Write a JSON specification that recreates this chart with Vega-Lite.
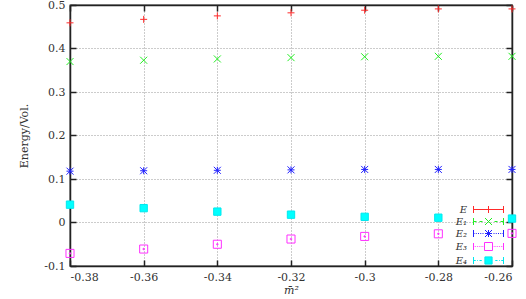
{
  "$schema": "https://vega.github.io/schema/vega-lite/v6.json",
  "autosize": {"type": "none"},
  "width": 442,
  "height": 261,
  "padding": {"left": 70, "top": 5, "right": 14, "bottom": 33},
  "config": {
    "font": "DejaVu Serif",
    "view": {"stroke": "#222", "strokeWidth": 1.3},
    "axis": {
      "labelFont": "DejaVu Serif",
      "labelFontSize": 11,
      "labelColor": "#333",
      "titleFont": "DejaVu Serif",
      "titleFontSize": 11,
      "titleColor": "#333",
      "titleFontWeight": "normal",
      "domainColor": "#222",
      "domainWidth": 1.5,
      "tickColor": "#222",
      "tickWidth": 1.5,
      "gridColor": "#999",
      "gridDash": [1, 2],
      "gridWidth": 1
    },
    "legend": {
      "labelFont": "DejaVu Serif",
      "labelFontSize": 10,
      "labelFontStyle": "italic",
      "labelColor": "#333"
    }
  },
  "datasets": {
    "pts": [
      {"m2": -0.38, "v": 0.459, "s": "E"},
      {"m2": -0.36, "v": 0.467, "s": "E"},
      {"m2": -0.34, "v": 0.475, "s": "E"},
      {"m2": -0.32, "v": 0.482, "s": "E"},
      {"m2": -0.30, "v": 0.488, "s": "E"},
      {"m2": -0.28, "v": 0.491, "s": "E"},
      {"m2": -0.26, "v": 0.491, "s": "E"},
      {"m2": -0.38, "v": 0.370, "s": "E₁"},
      {"m2": -0.36, "v": 0.373, "s": "E₁"},
      {"m2": -0.34, "v": 0.376, "s": "E₁"},
      {"m2": -0.32, "v": 0.379, "s": "E₁"},
      {"m2": -0.30, "v": 0.381, "s": "E₁"},
      {"m2": -0.28, "v": 0.382, "s": "E₁"},
      {"m2": -0.26, "v": 0.382, "s": "E₁"},
      {"m2": -0.38, "v": 0.118, "s": "E₂"},
      {"m2": -0.36, "v": 0.119, "s": "E₂"},
      {"m2": -0.34, "v": 0.120, "s": "E₂"},
      {"m2": -0.32, "v": 0.121, "s": "E₂"},
      {"m2": -0.30, "v": 0.122, "s": "E₂"},
      {"m2": -0.28, "v": 0.122, "s": "E₂"},
      {"m2": -0.26, "v": 0.122, "s": "E₂"},
      {"m2": -0.38, "v": -0.071, "s": "E₃"},
      {"m2": -0.36, "v": -0.061, "s": "E₃"},
      {"m2": -0.34, "v": -0.050, "s": "E₃"},
      {"m2": -0.32, "v": -0.038, "s": "E₃"},
      {"m2": -0.30, "v": -0.032, "s": "E₃"},
      {"m2": -0.28, "v": -0.026, "s": "E₃"},
      {"m2": -0.26, "v": -0.025, "s": "E₃"},
      {"m2": -0.38, "v": 0.041, "s": "E₄"},
      {"m2": -0.36, "v": 0.033, "s": "E₄"},
      {"m2": -0.34, "v": 0.025, "s": "E₄"},
      {"m2": -0.32, "v": 0.018, "s": "E₄"},
      {"m2": -0.30, "v": 0.013, "s": "E₄"},
      {"m2": -0.28, "v": 0.011, "s": "E₄"},
      {"m2": -0.26, "v": 0.009, "s": "E₄"}
    ]
  },
  "layer": [
    {
      "data": {"name": "pts"},
      "mark": {"type": "point", "size": 49, "strokeWidth": 1, "opacity": 1, "clip": false},
      "encoding": {
        "x": {
          "field": "m2", "type": "quantitative",
          "scale": {"domain": [-0.38, -0.26], "nice": false, "zero": false},
          "axis": {
            "values": [-0.38, -0.36, -0.34, -0.32, -0.3, -0.28, -0.26],
            "labelExpr": "replace(format(datum.value, '.2~f'), '\u2212', '-')",
            "ticks": false,
            "labelPadding": 5,
            "title": "m̄²",
            "titleFontStyle": "italic",
            "titlePadding": 2,
            "grid": true
          }
        },
        "y": {
          "field": "v", "type": "quantitative",
          "scale": {"domain": [-0.1, 0.5], "nice": false, "zero": false},
          "axis": {
            "values": [-0.1, 0, 0.1, 0.2, 0.3, 0.4, 0.5],
            "labelExpr": "replace(format(datum.value, '.1~f'), '\u2212', '-')",
            "ticks": false,
            "labelPadding": 5,
            "title": "Energy/Vol.",
            "titlePadding": 14,
            "grid": true
          }
        },
        "shape": {
          "field": "s", "type": "nominal", "legend": null,
          "scale": {
            "domain": ["E", "E₁", "E₂", "E₃", "E₄"],
            "range": [
              "M-1,0H1M0,-1V1",
              "M-1,-1L1,1M-1,1L1,-1",
              "M-1,0H1M0,-1V1M-1,-1L1,1M-1,1L1,-1",
              "M-1.15,-1.15H1.15V1.15H-1.15ZM-0.35,0H0.35M0,-0.35V0.35",
              "M-1.05,-1.05H1.05V1.05H-1.05Z"
            ]
          }
        },
        "stroke": {
          "field": "s", "type": "nominal", "legend": null,
          "scale": {"domain": ["E", "E₁", "E₂", "E₃", "E₄"], "range": ["#ff2a2a", "#22ee22", "#2020ff", "#ff30ff", "#00e8ee"]}
        },
        "fill": {
          "field": "s", "type": "nominal", "legend": null,
          "scale": {"domain": ["E", "E₁", "E₂", "E₃", "E₄"], "range": ["transparent", "transparent", "transparent", "transparent", "#00ffff"]}
        }
      }
    },
    {
      "data": {"name": "pts"},
      "transform": [{"filter": "datum.v > 10"}],
      "mark": {"type": "point", "size": 100, "strokeWidth": 1, "opacity": 1},
      "encoding": {
        "x": {
          "field": "m2", "type": "quantitative",
          "axis": {"orient": "top", "labels": false, "title": null, "grid": false, "tickSize": -6, "values": [-0.38, -0.36, -0.34, -0.32, -0.3, -0.28, -0.26]}
        },
        "y": {
          "field": "v", "type": "quantitative",
          "axis": {"orient": "right", "labels": false, "title": null, "grid": false, "tickSize": -6, "values": [-0.1, 0, 0.1, 0.2, 0.3, 0.4, 0.5]}
        },
        "shape": {
          "field": "s", "type": "nominal",
          "scale": {
            "domain": ["E", "E₁", "E₂", "E₃", "E₄"],
            "range": [
              "M-3,0H3M-3,-0.7V0.7M3,-0.7V0.7M0,-0.7V0.7",
              "M-3,0H-2.4M-1.8,0H-1.2M1.2,0H1.8M2.4,0H3M-3,-0.7V0.7M3,-0.7V0.7M-0.7,-0.7L0.7,0.7M-0.7,0.7L0.7,-0.7",
              "M-3,0H-2.8M-2.55,0H-2.35M-2.1,0H-1.9M-1.65,0H-1.45M-1.2,0H-1M1,0H1.2M1.45,0H1.65M1.9,0H2.1M2.35,0H2.55M2.8,0H3M-3,-0.7V0.7M3,-0.7V0.7M-0.7,0H0.7M0,-0.7V0.7M-0.7,-0.7L0.7,0.7M-0.7,0.7L0.7,-0.7",
              "M-3,0H-2.85M-2.64,0H-2.49M-2.28,0H-2.13M-1.92,0H-1.77M-1.56,0H-1.41M-1.2,0H-1.05M1.05,0H1.2M1.41,0H1.56M1.77,0H1.92M2.13,0H2.28M2.49,0H2.64M2.85,0H3M-3,-0.7V0.7M3,-0.7V0.7M-0.8,-0.8H0.8V0.8H-0.8Z",
              "M-3,0H-2.55M-2.25,0H-2.1M-1.8,0H-1.35M1.35,0H1.8M2.1,0H2.25M2.55,0H3M-3,-0.7V0.7M3,-0.7V0.7M-0.72,-0.72H0.72V0.72H-0.72Z"
            ]
          },
          "legend": {
            "orient": "none",
            "legendX": 413,
            "legendY": 199,
            "padding": 0,
            "title": null,
            "symbolSize": 100,
            "rowPadding": 1,
            "labelAlign": "right",
            "labelOffset": -27,
            "symbolStrokeWidth": 1
          }
        },
        "stroke": {
          "field": "s", "type": "nominal",
          "scale": {"domain": ["E", "E₁", "E₂", "E₃", "E₄"], "range": ["#ff2a2a", "#22ee22", "#2020ff", "#ff30ff", "#00e8ee"]}
        },
        "fill": {
          "field": "s", "type": "nominal",
          "scale": {"domain": ["E", "E₁", "E₂", "E₃", "E₄"], "range": ["transparent", "transparent", "transparent", "transparent", "#00ffff"]}
        }
      }
    },
    {
      "data": {"name": "pts"},
      "transform": [{"filter": "datum.v > 10"}],
      "mark": {"type": "point"},
      "encoding": {
        "x": {
          "field": "m2", "type": "quantitative",
          "axis": {"orient": "bottom", "labels": false, "title": null, "grid": false, "domain": false, "tickSize": -6, "values": [-0.38, -0.36, -0.34, -0.32, -0.3, -0.28, -0.26]}
        },
        "y": {
          "field": "v", "type": "quantitative",
          "axis": {"orient": "left", "labels": false, "title": null, "grid": false, "domain": false, "tickSize": -6, "values": [-0.1, 0, 0.1, 0.2, 0.3, 0.4, 0.5]}
        }
      }
    }
  ],
  "resolve": {
    "axis": {"x": "independent", "y": "independent"},
    "scale": {"shape": "independent", "stroke": "independent", "fill": "independent"}
  }
}
